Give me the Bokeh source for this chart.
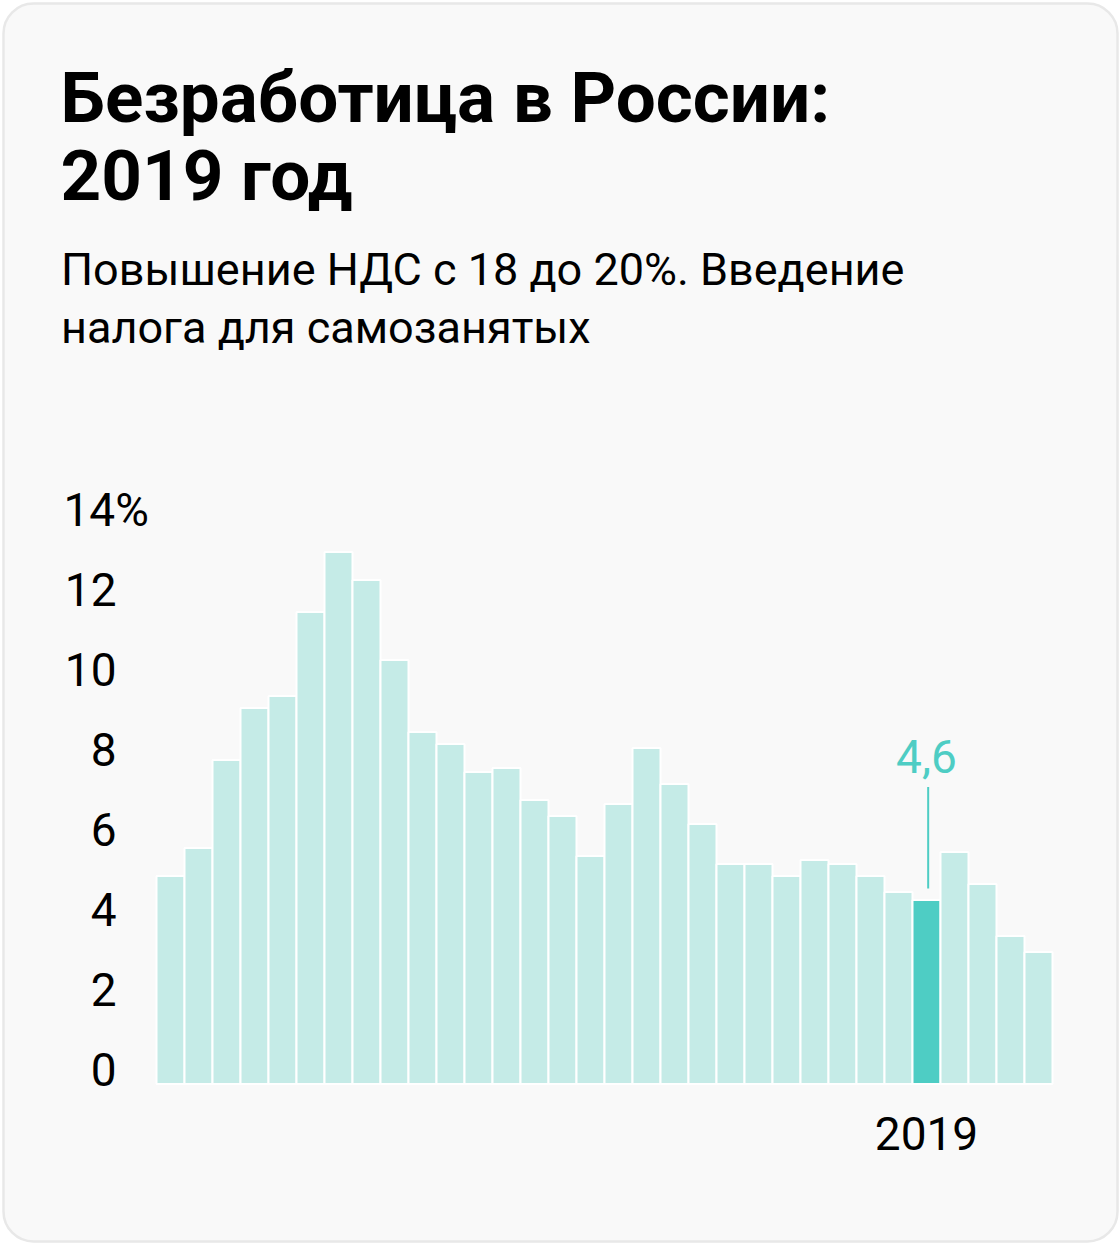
from bokeh.plotting import figure
from bokeh.models import Range1d, BoxAnnotation
from bokeh.core.properties import value
from bokeh.embed import file_html
from bokeh.resources import INLINE

# ---------------- data ----------------
years = list(range(1992, 2024))
unemployment = [5.2, 5.9, 8.1, 9.4, 9.7, 11.8, 13.3, 12.6, 10.6, 8.8,
                8.5, 7.8, 7.9, 7.1, 6.7, 5.7, 7.0, 8.4, 7.5, 6.5,
                5.5, 5.5, 5.2, 5.6, 5.5, 5.2, 4.8, 4.6, 5.8, 5.0,
                3.7, 3.3]
highlight_year = 2019
highlight_label = "4,6"
x_tick_labels = ["2019"]
y_ticks = [0, 2, 4, 6, 8, 10, 12, 14]
y_tick_labels = ["0", "2", "4", "6", "8", "10", "12", "14%"]
title_lines = ["Безработица в России:", "2019 год"]
subtitle_lines = ["Повышение НДС с 18 до 20%. Введение", "налога для самозанятых"]

# ---------------- layout / styles ----------------
W, H = 1120, 1244
PX_X = 28.0     # pixels per year slot
PX_Y = 40.0     # pixels per percentage point
bar0_px = 170.0
zero_py = 1083.5

x_start = -bar0_px / PX_X
x_end = x_start + W / PX_X
y_end = zero_py / PX_Y
y_start = y_end - H / PX_Y


def X(px):
    return x_start + px / PX_X


def Y(py):
    return y_end - py / PX_Y


FONT = value("Roboto")
LIGHT = "#c5ebe7"
TEAL = "#4ecdc4"
TEXT = "#000000"

idx = list(range(len(years)))
hi = years.index(highlight_year)
hi_val = unemployment[hi]
colors = [TEAL if y == highlight_year else LIGHT for y in years]

p = figure(width=W, height=H, x_range=Range1d(x_start, x_end), y_range=Range1d(y_start, y_end),
           output_backend="svg", toolbar_location=None,
           x_axis_location=None, y_axis_location=None, min_border=0,
           outline_line_color=None, background_fill_color="white", border_fill_color="white")
p.title.visible = False
p.grid.visible = False

# card
card = BoxAnnotation(left=X(3), right=X(1117), top=Y(3), bottom=Y(1241),
                     fill_color="#f9f9f9", fill_alpha=1.0, line_color="#e8e8e8", line_alpha=1.0,
                     line_width=2.5, border_radius=30, level="underlay")
p.add_layout(card)

# bars
p.vbar(x=idx, top=unemployment, bottom=0, width=1.0, fill_color=colors,
       line_color="white", line_width=2)

# title (y = visual centre of capitals)
p.text(x=[X(60)] * len(title_lines), y=[Y(97), Y(175)], text=title_lines,
       text_font=FONT, text_font_size="71px", text_font_style="bold", text_color=TEXT,
       text_align="left", text_baseline="alphabetic")
# subtitle
p.text(x=[X(60.5)] * len(subtitle_lines), y=[Y(269), Y(327)], text=subtitle_lines,
       text_font=FONT, text_font_size="45px", text_color=TEXT,
       text_align="left", text_baseline="alphabetic")

# y tick labels
p.text(x=[X(116)] * (len(y_ticks) - 1), y=y_ticks[:-1], text=y_tick_labels[:-1],
       text_font=FONT, text_font_size="46px", text_color=TEXT,
       text_align="right", text_baseline="alphabetic", y_offset=-14.5)
p.text(x=[X(63)], y=y_ticks[-1:], text=y_tick_labels[-1:],
       text_font=FONT, text_font_size="46px", text_color=TEXT,
       text_align="left", text_baseline="alphabetic", y_offset=-14.5)

# x tick label
p.text(x=[hi], y=[0], text=x_tick_labels,
       text_font=FONT, text_font_size="46px", text_color=TEXT,
       text_align="center", text_baseline="alphabetic", y_offset=49)

# highlight annotation
p.text(x=[hi], y=[hi_val], text=[highlight_label],
       text_font=FONT, text_font_size="46px", text_color=TEAL,
       text_align="center", text_baseline="alphabetic", y_offset=-144)
p.segment(x0=[hi + 0.06], y0=[hi_val + 11.5 / PX_Y], x1=[hi + 0.06], y1=[hi_val + 113 / PX_Y],
          line_color=TEAL, line_width=2)

open("out.html", "w").write(file_html(p, INLINE))
